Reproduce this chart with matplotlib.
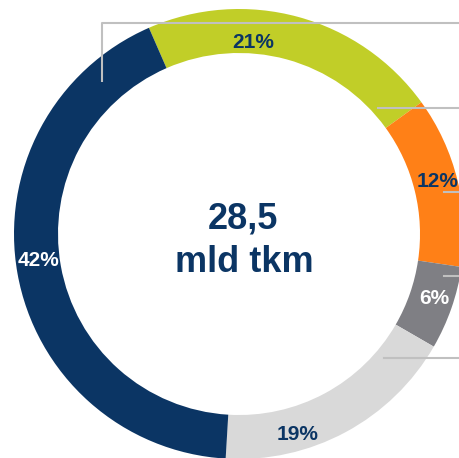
import matplotlib
matplotlib.use("Agg")
import matplotlib.pyplot as plt

# Data (shares as drawn, clockwise from the navy/lime boundary)
categories = ["lime", "orange", "gray", "light", "navy"]
shares = [21.6, 12.3, 6.0, 17.6, 42.5]
labels = ["21%", "12%", "6%", "19%", "42%"]
colors = ["#C1CE28", "#FF8017", "#7F7F84", "#D9D9D9", "#0B3564"]
label_colors = ["#0B3564", "#0B3564", "#FFFFFF", "#0B3564", "#FFFFFF"]
center_text = ["28,5", "mld tkm"]

W, H = 459, 458
fig = plt.figure(figsize=(W / 100, H / 100), dpi=100)
ax = fig.add_axes([0, 0, 1, 1])

cx, cy = 239, H - 234
ax.pie(shares, colors=colors, startangle=113.6, counterclock=False,
       center=(cx, cy), radius=225,
       wedgeprops=dict(width=44, edgecolor="none", linewidth=0))
ax.set_xlim(0, W)
ax.set_ylim(0, H)
ax.set_aspect("equal")
ax.axis("off")

def py(y):
    return H - y

# leader lines
lc = "#C0C0C0"
lw = 1.5
ax.plot([102, 102, W], [py(82), py(22.5), py(22.5)], color=lc, lw=lw, solid_capstyle="butt")
ax.plot([378, W], [py(107.5), py(107.5)], color=lc, lw=lw)
ax.plot([444, W], [py(192), py(192)], color=lc, lw=lw)
ax.plot([444, W], [py(275.5), py(275.5)], color=lc, lw=lw)
ax.plot([384, W], [py(357.5), py(357.5)], color=lc, lw=lw)

font = "Liberation Sans"
label_pos = [(253, 48, "center"), (417, 187, "left"), (434, 304, "center"),
             (298, 440, "center"), (38, 266, "center")]
for (x, y, ha), lab, c in zip(label_pos, labels, label_colors):
    ax.text(x, py(y), lab, ha=ha, va="baseline", color=c, fontsize=15,
            fontweight="bold", family=font)

ax.text(243, py(228), center_text[0], ha="center", va="baseline", color="#0B3564",
        fontsize=26, fontweight="bold", family=font)
ax.text(244, py(272), center_text[1], ha="center", va="baseline", color="#0B3564",
        fontsize=26, fontweight="bold", family=font)

fig.savefig("out.png", dpi=100)
